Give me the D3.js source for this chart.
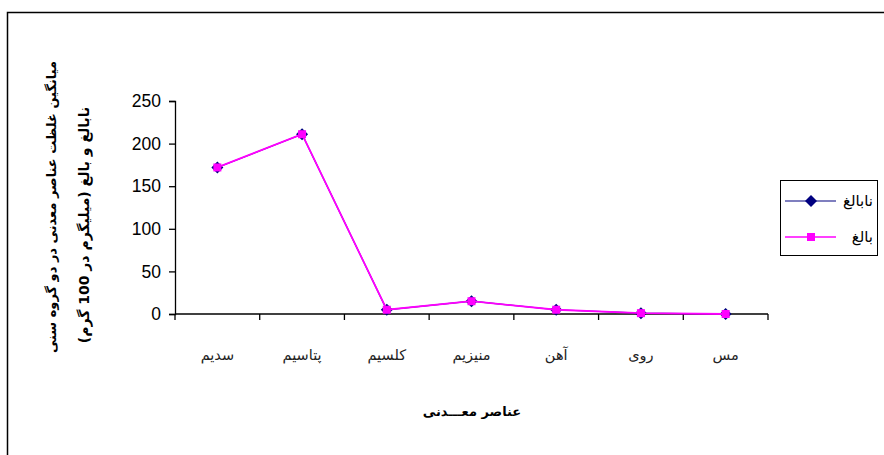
<!DOCTYPE html>
<html>
<head>
<meta charset="utf-8">
<script src="https://cdn.jsdelivr.net/npm/d3@7"></script>
<style>
body { margin: 0; background: #fff; }
text { font-family: "DejaVu Sans", sans-serif; }
</style>
</head>
<body>
<svg width="884" height="455"></svg>
<script>
var categories = ["سدیم", "پتاسیم", "کلسیم", "منیزیم", "آهن", "روی", "مس"];
var immature = [172, 211, 5, 15, 5, 1, 0];
var mature = [172, 211, 5, 15, 5, 1, 0];
var yTicks = [0, 50, 100, 150, 200, 250];
var seriesNames = ["نابالغ", "بالغ"];

var svg = d3.select("svg"),
    margin = {top: 101, right: 116, bottom: 141, left: 175},
    width = +svg.attr("width") - margin.left - margin.right,
    height = +svg.attr("height") - margin.top - margin.bottom;

// outer frame
svg.append("rect")
    .attr("x", 7.5).attr("y", 12.5)
    .attr("width", 900).attr("height", 460)
    .attr("fill", "none").attr("stroke", "#000").attr("stroke-width", 1.5);

var g = svg.append("g").attr("transform", "translate(" + margin.left + "," + margin.top + ")");

var x = d3.scaleBand().domain(categories).range([0, width]);
var y = d3.scaleLinear().domain([0, 250]).range([height, 0]);

// y axis
var yAxis = g.append("g")
    .call(d3.axisLeft(y).tickValues(yTicks).tickSize(6).tickPadding(8));
yAxis.select(".domain").attr("stroke", "#000").attr("stroke-width", 1.3);
yAxis.selectAll(".tick line").attr("stroke", "#000").attr("stroke-width", 1.3);
yAxis.selectAll("text")
    .style("font-family", "Liberation Sans, Arial, sans-serif")
    .style("font-size", "17.5px").attr("fill", "#000");

// x axis with ticks at category boundaries
var xAxis = g.append("g").attr("transform", "translate(0," + height + ")");
xAxis.append("line")
    .attr("x1", 0).attr("x2", width)
    .attr("stroke", "#000").attr("stroke-width", 1.3);
xAxis.selectAll(".bt")
    .data(d3.range(categories.length + 1))
    .enter().append("line")
    .attr("x1", function(i) { return i * x.step(); })
    .attr("x2", function(i) { return i * x.step(); })
    .attr("y1", 0).attr("y2", 6)
    .attr("stroke", "#000").attr("stroke-width", 1.3);
xAxis.selectAll(".lbl")
    .data(categories)
    .enter().append("text")
    .attr("x", function(d) { return x(d) + x.bandwidth() / 2; })
    .attr("y", 46)
    .attr("text-anchor", "middle")
    .style("font-size", "14.5px")
    .attr("fill", "#222")
    .text(function(d) { return d; });

var line = d3.line()
    .x(function(d, i) { return x(categories[i]) + x.bandwidth() / 2; })
    .y(function(d) { return y(d); });

var diamond = d3.symbol().type(d3.symbolSquare).size(72);

// series 1 (navy, diamonds)
g.append("path").datum(immature)
    .attr("d", line).attr("fill", "none")
    .attr("stroke", "#000080").attr("stroke-width", 1.2);
g.selectAll(".dia").data(immature).enter().append("path")
    .attr("transform", function(d, i) {
      return "translate(" + (x(categories[i]) + x.bandwidth() / 2) + "," + y(d) + ") rotate(45)";
    })
    .attr("d", diamond)
    .attr("fill", "#000080");

// series 2 (magenta, squares)
g.append("path").datum(mature)
    .attr("d", line).attr("fill", "none")
    .attr("stroke", "#FF00FF").attr("stroke-width", 1.8);
g.selectAll(".sq").data(mature).enter().append("rect")
    .attr("x", function(d, i) { return x(categories[i]) + x.bandwidth() / 2 - 4; })
    .attr("y", function(d) { return y(d) - 4; })
    .attr("width", 8).attr("height", 8)
    .attr("fill", "#FF00FF");

// axis titles
svg.append("text")
    .attr("transform", "translate(472,416)")
    .attr("text-anchor", "middle")
    .style("font-size", "13px").style("font-weight", "bold")
    .text("عناصر معـــدنی");

svg.append("text")
    .attr("transform", "translate(56,207) rotate(-90)")
    .attr("text-anchor", "middle")
    .style("font-size", "13px").style("font-weight", "bold")
    .text("میانگین غلظت عناصر معدنی در دو گروه سنی");
svg.append("text")
    .attr("transform", "translate(89,225) rotate(-90)")
    .attr("text-anchor", "middle")
    .style("font-size", "14px").style("font-weight", "bold")
    .text("نابالغ و بالغ (میلیگرم در 100 گرم)");

// legend
var lg = svg.append("g").attr("transform", "translate(780,180)");
lg.append("rect").attr("x", 0.5).attr("y", 0.5).attr("width", 97).attr("height", 75)
    .attr("fill", "#fff").attr("stroke", "#000").attr("stroke-width", 1);
lg.append("line").attr("x1", 5).attr("x2", 56).attr("y1", 21).attr("y2", 21)
    .attr("stroke", "#000080").attr("stroke-width", 1.2);
lg.append("path").attr("transform", "translate(31,21) rotate(45)")
    .attr("d", diamond).attr("fill", "#000080");
lg.append("line").attr("x1", 5).attr("x2", 56).attr("y1", 57).attr("y2", 57)
    .attr("stroke", "#FF00FF").attr("stroke-width", 1.6);
lg.append("rect").attr("x", 27).attr("y", 53).attr("width", 8).attr("height", 8)
    .attr("fill", "#FF00FF");
lg.selectAll(".lt").data(seriesNames).enter().append("text")
    .attr("x", 93).attr("y", function(d, i) { return 26 + i * 36; })
    .attr("text-anchor", "end")
    .style("font-size", "15px")
    .text(function(d) { return d; });
</script>
</body>
</html>
